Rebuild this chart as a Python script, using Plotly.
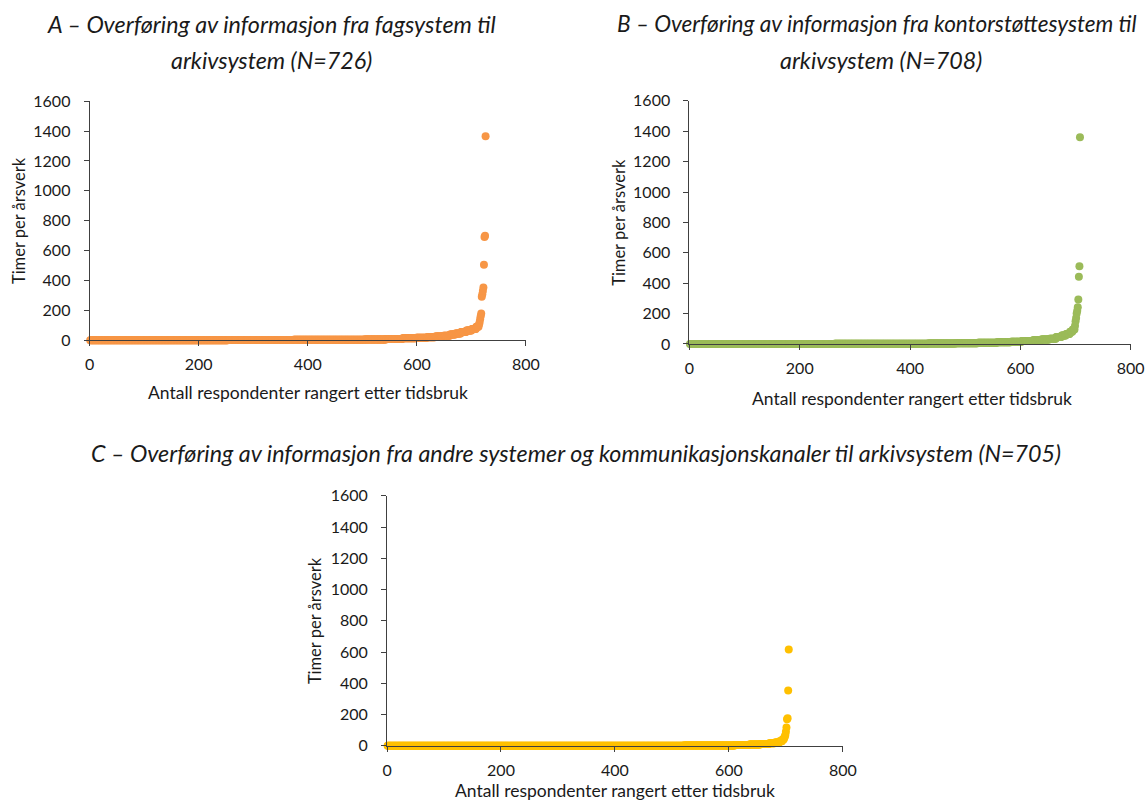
import numpy as np
import plotly.graph_objects as go

# The photographed page maps figure pixels to picture pixels as  out = OFF + SCALE * fig
# (measured from earlier renders), so positions below are given in picture pixels and converted.
OFF_X, SCALE_X = 4.6, 0.9808
OFF_Y, SCALE_Y = 9.5, 0.9763
W, H = 1166, 818

# ---- Data (ranked ascending) ----
# Panel A (N=726): value levels and how many respondents sit at each level, plus the tail
a_levels = [0, 1, 2, 3, 5, 8, 12, 16, 20, 25, 30, 38, 45, 55, 65, 75, 90]
a_counts = [253, 120, 80, 50, 40, 30, 25, 20, 15, 15, 12, 10, 10, 10, 10, 8, 5]
a_tail = [105, 118, 140, 160, 178, 290, 308, 330, 353, 505, 690, 700, 1365]

# Panel B (N=708)
b_levels = [0, 1, 2, 3, 5, 8, 11, 15, 20, 25, 30, 35, 45, 55, 65, 80, 95]
b_counts = [262, 100, 70, 50, 40, 35, 25, 20, 20, 15, 15, 12, 10, 8, 7, 5, 4]
b_tail = [120, 150, 171, 200, 219, 241, 292, 443, 511, 1360]

# Panel C (N=705)
c_levels = [0, 1, 2, 3, 5, 8, 12, 16, 22, 30, 40]
c_counts = [400, 120, 60, 30, 25, 20, 15, 10, 8, 5, 3]
c_tail = [50, 58, 70, 90, 117, 170, 177, 354, 616]

titles_a = ["A \u2013 Overføring av informasjon fra fagsystem til", "arkivsystem (N=726)"]
titles_b = ["B \u2013 Overføring av informasjon fra kontorstøttesystem til", "arkivsystem (N=708)"]
title_c = "C \u2013 Overføring av informasjon fra andre systemer og kommunikasjonskanaler til arkivsystem (N=705)"
x_title = "Antall respondenter rangert etter tidsbruk"
y_title = "Timer per årsverk"

colors = {"A": "#F79646", "B": "#9BBB59", "C": "#FFC000"}


def series(levels, counts, tail):
    vals = list(np.repeat(levels, counts)) + list(tail)
    return list(range(1, len(vals) + 1)), vals


xa, ya = series(a_levels, a_counts, a_tail)
xb, yb = series(b_levels, b_counts, b_tail)
xc, yc = series(c_levels, c_counts, c_tail)

FONT = "Lato"
AX = "#404040"
TXT = "#1a1a1a"


def px_x(p):
    return ((p - OFF_X) / SCALE_X) / W


def px_y(p):
    return 1 - ((p - OFF_Y) / SCALE_Y) / H


fig = go.Figure()
for name, xs, ys, xr, yr in [("A", xa, ya, "x", "y"), ("B", xb, yb, "x2", "y2"), ("C", xc, yc, "x3", "y3")]:
    fig.add_trace(go.Scatter(x=xs, y=ys, mode="markers", xaxis=xr, yaxis=yr,
                             marker=dict(color=colors[name], size=8, line=dict(width=0)),
                             cliponaxis=False, showlegend=False, name=name))

domains = {
    "1": dict(x=[89, 524], y=[339.5, 100.7]),
    "2": dict(x=[687, 1127], y=[343.3, 100.3]),
    "3": dict(x=[385.5, 840], y=[745, 495]),
}

layout = dict(width=W, height=H, margin=dict(l=0, r=0, t=0, b=0),
              paper_bgcolor="white", plot_bgcolor="white",
              font=dict(family=FONT, color=TXT, size=16))

for k, d in domains.items():
    xk = "xaxis" if k == "1" else f"xaxis{k}"
    yk = "yaxis" if k == "1" else f"yaxis{k}"
    anchor_x = "y" if k == "1" else f"y{k}"
    anchor_y = "x" if k == "1" else f"x{k}"
    layout[xk] = dict(domain=[px_x(d["x"][0]), px_x(d["x"][1])], anchor=anchor_x,
                      range=[0, 800], dtick=200, tick0=0, showgrid=False, zeroline=False,
                      showline=True, linecolor=AX, linewidth=1, ticks="outside", ticklen=5,
                      tickcolor=AX, ticklabelstandoff=5, tickfont=dict(size=16, family=FONT, color=TXT),
                      fixedrange=True)
    layout[yk] = dict(domain=[px_y(d["y"][0]), px_y(d["y"][1])], anchor=anchor_y,
                      range=[0, 1600], dtick=200, tick0=0, showgrid=False, zeroline=False,
                      showline=True, linecolor=AX, linewidth=1, ticks="outside", ticklen=5,
                      tickcolor=AX, ticklabelstandoff=10, tickfont=dict(size=16, family=FONT, color=TXT),
                      fixedrange=True)

fig.update_layout(**layout)

ann = []


def add_text(text, xp, yp, size, italic=False, angle=0):
    ann.append(dict(text=text, x=px_x(xp), y=px_y(yp), xref="paper", yref="paper",
                    showarrow=False, xanchor="center", yanchor="middle", textangle=angle,
                    font=dict(family=FONT, size=size, color=TXT, style="italic" if italic else "normal")))


# Titles
add_text(titles_a[0], 270, 23, 23.3, italic=True)
add_text(titles_a[1], 270, 59, 23.3, italic=True)
add_text(titles_b[0], 874, 23, 22.6, italic=True)
add_text(titles_b[1], 878, 59, 23.3, italic=True)
add_text(title_c, 574, 452, 23.3, italic=True)

# Axis titles
add_text(x_title, 307, 392, 17.5)
add_text(x_title, 909, 398, 17.5)
add_text(x_title, 613, 790, 17.5)
add_text(y_title, 18, 220, 16.5, angle=-90)
add_text(y_title, 616, 222, 16.5, angle=-90)
add_text(y_title, 313, 620, 16.5, angle=-90)

fig.update_layout(annotations=ann)

fig.write_html("out.html")
